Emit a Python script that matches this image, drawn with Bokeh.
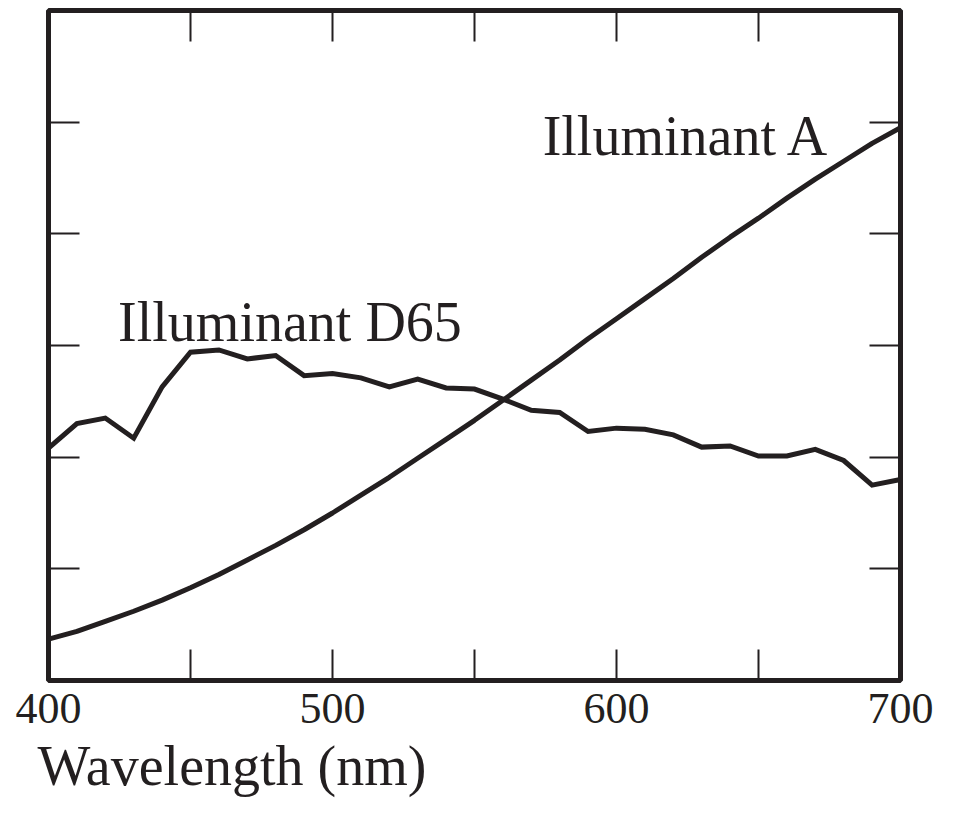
from bokeh.plotting import figure
from bokeh.models import LinearAxis, FixedTicker, Label, Title, ColumnDataSource, Range1d
from bokeh.embed import file_html
from bokeh.resources import INLINE

wavelength = [400, 410, 420, 430, 440, 450, 460, 470, 480, 490, 500,
              510, 520, 530, 540, 550, 560, 570, 580, 590, 600,
              610, 620, 630, 640, 650, 660, 670, 680, 690, 700]
illum_d65 = [2.08, 2.30, 2.35, 2.17, 2.63, 2.94, 2.96, 2.88, 2.91, 2.73, 2.75,
             2.71, 2.63, 2.70, 2.62, 2.61, 2.52, 2.42, 2.40, 2.23, 2.26,
             2.25, 2.20, 2.09, 2.10, 2.01, 2.01, 2.07, 1.97, 1.75, 1.80]
illum_a = [0.37, 0.44, 0.53, 0.62, 0.72, 0.83, 0.95, 1.08, 1.21, 1.35, 1.50,
           1.66, 1.82, 1.99, 2.16, 2.33, 2.51, 2.69, 2.87, 3.06, 3.24,
           3.42, 3.60, 3.79, 3.97, 4.14, 4.32, 4.49, 4.65, 4.81, 4.95]
x_label_ticks = [400, 500, 600, 700]
x_inner_ticks = [450, 500, 550, 600, 650]
y_ticks = [1, 2, 3, 4, 5]
x_title = "Wavelength (nm)"
label_d65 = "Illuminant D65"
label_a = "Illuminant A"

INK = "#231f20"
FONT = "Liberation Serif"

p = figure(width=956, height=814, output_backend="svg", toolbar_location=None,
           x_axis_type=None, y_axis_type=None,
           x_range=Range1d(400, 700), y_range=Range1d(0, 6),
           min_border_left=48, min_border_right=56, min_border_top=10,
           min_border_bottom=134)
p.background_fill_color = "white"
p.border_fill_color = "white"
p.outline_line_color = INK
p.outline_line_width = 5
p.outline_line_alpha = 1.0

def tick_only_axis(ticks):
    ax = LinearAxis(ticker=FixedTicker(ticks=[], minor_ticks=ticks))
    ax.axis_line_color = None
    ax.major_tick_line_color = None
    ax.minor_tick_in = 31
    ax.minor_tick_out = 0
    ax.minor_tick_line_width = 2
    ax.minor_tick_line_color = INK
    return ax

bottom = LinearAxis(ticker=FixedTicker(ticks=x_label_ticks, minor_ticks=x_inner_ticks))
bottom.axis_line_color = None
bottom.major_tick_in = 0
bottom.major_tick_out = 0
bottom.major_tick_line_color = None
bottom.minor_tick_in = 31
bottom.minor_tick_out = 0
bottom.minor_tick_line_width = 2
bottom.minor_tick_line_color = INK
bottom.major_label_text_font = FONT
bottom.major_label_text_font_size = "44px"
bottom.major_label_text_color = INK
bottom.major_label_standoff = 13
p.add_layout(bottom, "below")

p.add_layout(tick_only_axis(x_inner_ticks), "above")
p.add_layout(tick_only_axis(y_ticks), "left")
p.add_layout(tick_only_axis(y_ticks), "right")

title = Title(text=x_title, align="left", offset=-11, standoff=18,
              vertical_align="top",
              text_font=FONT, text_font_size="56px", text_font_style="normal",
              text_color=INK)
p.add_layout(title, "below")

src = ColumnDataSource(dict(w=wavelength, d65=illum_d65, a=illum_a))
p.line("w", "d65", source=src, line_width=5, line_color=INK, line_join="miter")
p.line("w", "a", source=src, line_width=5, line_color=INK)

p.add_layout(Label(x=424.5, y=3.21, text=label_d65, text_font=FONT,
                   text_font_size="56px", text_color=INK,
                   text_baseline="alphabetic", text_align="left"))
p.add_layout(Label(x=574, y=4.88, text=label_a, text_font=FONT,
                   text_font_size="56px", text_color=INK,
                   text_baseline="alphabetic", text_align="left"))

open("out.html", "w").write(file_html(p, INLINE))
